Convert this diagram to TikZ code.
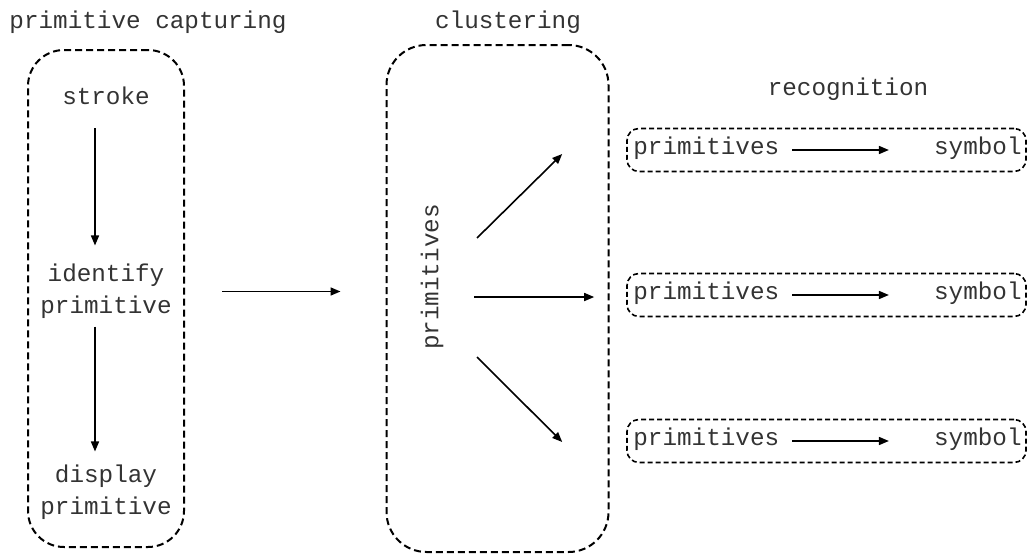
\documentclass[tikz,border=0pt]{standalone}
\usepackage{fontspec}
\setmainfont{Liberation Mono}
\usetikzlibrary{arrows.meta}
\newcommand{\txtsize}{\fontsize{24.3}{32}\selectfont}

\begin{document}
\begin{tikzpicture}[x=1pt,y=-1pt]
\useasboundingbox (0,0) rectangle (1027,554);
\tikzstyle{every node}=[font=\txtsize, text=black!80, inner sep=0pt, align=center]
\tikzstyle{bigbox}=[draw, dash pattern=on 7pt off 4pt, line width=2pt, rectangle]
\tikzstyle{recbox}=[draw, dash pattern=on 5pt off 3pt, line width=1.6pt, rectangle,
			minimum width=399pt, minimum height=43pt, rounded corners=12pt]
\tikzstyle{arr}=[line width=1.6pt, -{Triangle[length=10pt,width=8pt]}]

% titles
\node (titlecap) at (148,22) {primitive capturing};
\node (titleclu) at (508,22) {clustering};
\node (titlerec) at (848,89) {recognition};

% primitive capturing
\node[bigbox, minimum width=156pt, minimum height=497pt, rounded corners=36pt] (capture) at (106,298.5) {};
\node (stroke) at (106,96) {stroke};
\node (ident) at (106,291) {identify\\primitive};
\node (display) at (106,492) {display\\primitive};
\draw[arr, shorten <=23pt, shorten >=18pt] ([xshift=-11pt]stroke.south) -- ([xshift=-11pt]ident.north);
\draw[arr, shorten <=8pt, shorten >=13pt] ([xshift=-11pt]ident.south) -- ([xshift=-11pt]display.north);

% clustering
\node[bigbox, minimum width=222pt, minimum height=507pt, rounded corners=40pt] (cluster) at (497.5,298.5) {};
\node[rotate=90] (prims) at (432,277) {primitives};
\draw[arr, shorten <=37pt, shorten >=45pt] ([yshift=7pt]capture.east) -- ([yshift=7pt]cluster.west);

% recognition
\node[recbox] (rec1) at (826.5,150) {};
\node[anchor=west] (prim1) at ([xshift=7pt,yshift=2pt]rec1.west) {primitives};
\node[anchor=east] (sym1) at ([xshift=-5pt,yshift=2pt]rec1.east) {symbol};
\draw[arr] ([xshift=13pt]prim1.east |- rec1.west) -- ([xshift=-45pt]sym1.west |- rec1.west);

\node[recbox] (rec2) at (826.5,295) {};
\node[anchor=west] (prim2) at ([xshift=7pt,yshift=2pt]rec2.west) {primitives};
\node[anchor=east] (sym2) at ([xshift=-5pt,yshift=2pt]rec2.east) {symbol};
\draw[arr] ([xshift=13pt]prim2.east |- rec2.west) -- ([xshift=-45pt]sym2.west |- rec2.west);

\node[recbox] (rec3) at (826.5,441) {};
\node[anchor=west] (prim3) at ([xshift=7pt,yshift=2pt]rec3.west) {primitives};
\node[anchor=east] (sym3) at ([xshift=-5pt,yshift=2pt]rec3.east) {symbol};
\draw[arr] ([xshift=13pt]prim3.east |- rec3.west) -- ([xshift=-45pt]sym3.west |- rec3.west);

% fan out
\draw[arr] ([xshift=45pt,yshift=39pt]prims.center) -- ([xshift=-64pt,yshift=-4pt]rec1.west);
\draw[arr] ([xshift=42pt,yshift=-20pt]prims.center) -- ([xshift=-32pt,yshift=-2pt]rec2.west);
\draw[arr] ([xshift=45pt,yshift=-80pt]prims.center) -- ([xshift=-64pt,yshift=-1pt]rec3.west);

\end{tikzpicture}
\end{document}
